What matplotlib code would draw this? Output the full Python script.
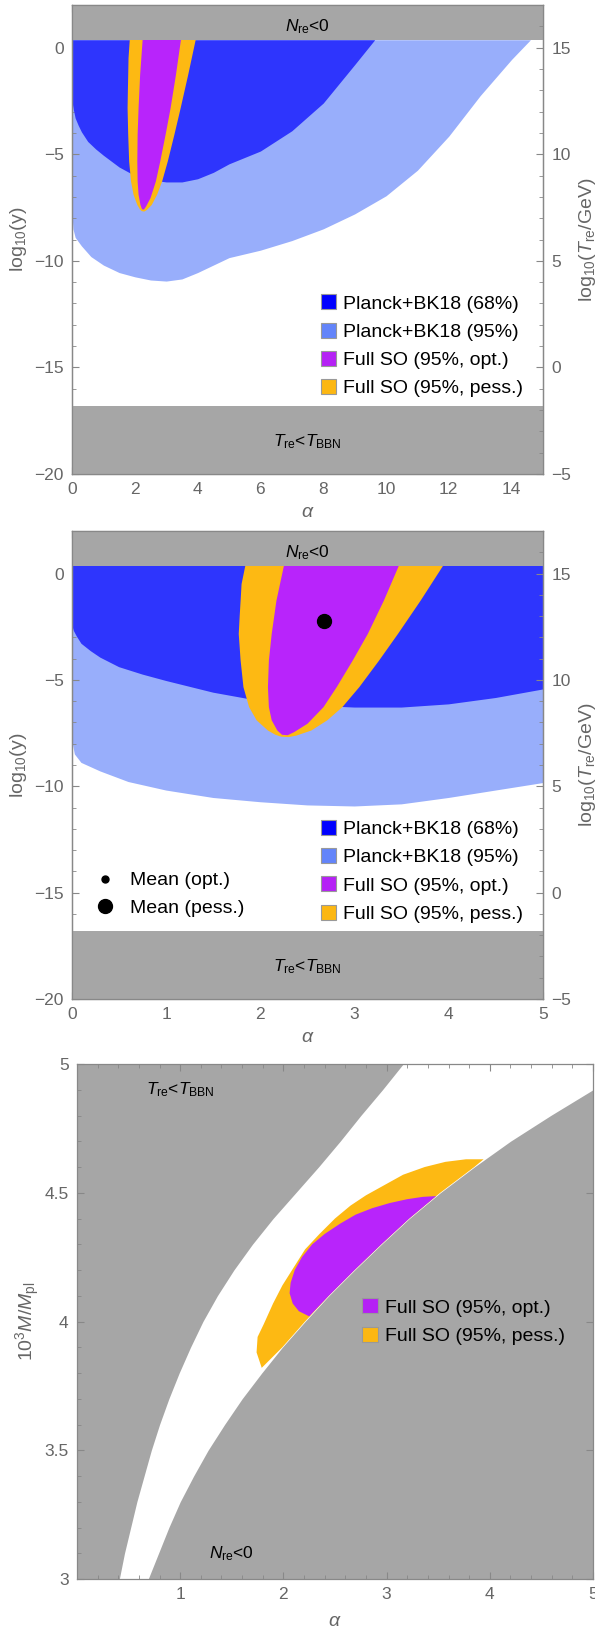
import matplotlib
matplotlib.use('Agg')
import matplotlib.pyplot as plt
from matplotlib.patches import Patch
from matplotlib.lines import Line2D
from matplotlib.ticker import MultipleLocator

plt.rcParams['font.family'] = ['Liberation Sans', 'DejaVu Sans']
plt.rcParams['mathtext.fontset'] = 'custom'
plt.rcParams['mathtext.rm'] = 'Liberation Sans'
plt.rcParams['mathtext.it'] = 'Liberation Sans:italic'

# excluded regions in log10(y)
nre_edge = 0.37     # N_re < 0 above
bbn_edge = -16.8    # T_re < T_BBN below

# Planck+BK18 68% lower edge
alpha_68 = [0.0, 0.02, 0.05, 0.1, 0.2, 0.3, 0.5, 0.75, 1.0, 1.5, 2.0, 2.5, 3.0, 3.5, 4.0, 4.5, 5.0, 6.0, 7.0, 8.0, 9.0, 9.64]
logy_68 = [-2.4, -2.7, -2.95, -3.3, -3.65, -3.95, -4.4, -4.75, -5.05, -5.6, -6.0, -6.2, -6.3, -6.3, -6.15, -5.85, -5.45, -4.85, -3.9, -2.6, -0.8, 0.37]

# Planck+BK18 95% lower edge
alpha_95 = [0.0, 0.03, 0.1, 0.3, 0.6, 1.0, 1.5, 2.0, 2.5, 3.0, 3.5, 4.0, 4.5, 5.0, 6.0, 7.0, 8.0, 9.0, 10.0, 11.0, 12.0, 13.0, 14.0, 14.6]
logy_95 = [-7.8, -8.5, -8.9, -9.3, -9.8, -10.2, -10.55, -10.75, -10.9, -10.95, -10.85, -10.55, -10.2, -9.85, -9.5, -9.05, -8.5, -7.8, -6.95, -5.75, -4.15, -2.25, -0.55, 0.37]

# Full SO 95% pessimistic contour (left edge top->tip, right edge tip->top)
pess_left_a = [1.84, 1.80, 1.79, 1.78, 1.77, 1.79, 1.82, 1.88, 1.96, 2.08, 2.16, 2.22]
pess_left_y = [0.37, -0.5, -1.28, -2.0, -2.84, -4.09, -5.34, -6.28, -6.9, -7.38, -7.58, -7.67]
pess_right_a = [2.30, 2.38, 2.54, 2.71, 2.87, 3.05, 3.26, 3.46, 3.70, 3.94]
pess_right_y = [-7.69, -7.62, -7.38, -6.9, -6.28, -5.34, -4.09, -2.84, -1.28, 0.37]

# Full SO 95% optimistic contour
opt_left_a = [2.25, 2.17, 2.12, 2.09, 2.08, 2.09, 2.12, 2.18, 2.23]
opt_left_y = [0.37, -1.28, -2.84, -4.09, -5.34, -6.28, -6.9, -7.38, -7.58]
opt_right_a = [2.29, 2.36, 2.50, 2.67, 2.81, 2.98, 3.14, 3.31, 3.47]
opt_right_y = [-7.6, -7.45, -7.06, -6.28, -5.34, -4.09, -2.84, -1.28, 0.37]

# means
mean_alpha = [2.67, 2.67]
mean_logy = [-2.25, -2.25]

# third panel: allowed band in (alpha, 10^3 M/Mpl)
mass_grid = [3.0, 3.1, 3.2, 3.3, 3.4, 3.5, 3.6, 3.7, 3.8, 3.9, 4.0,
             4.1, 4.2, 4.3, 4.4, 4.5, 4.6, 4.7, 4.8, 4.9, 5.0]
alpha_bbn = [0.41, 0.46, 0.52, 0.58, 0.65, 0.72, 0.80, 0.89, 0.99, 1.10, 1.22,
             1.36, 1.52, 1.70, 1.90, 2.12, 2.34, 2.55, 2.75, 2.96, 3.16]
alpha_nre = [0.69, 0.79, 0.89, 1.00, 1.13, 1.27, 1.43, 1.60, 1.79, 1.99, 2.21,
             2.44, 2.69, 2.95, 3.22, 3.52, 3.85, 4.20, 4.59, 5.00, 5.40]

pess_arc_a = [1.79, 1.74, 1.75, 1.81, 1.90, 1.99, 2.10, 2.21, 2.35, 2.50, 2.65, 2.80, 2.98, 3.16, 3.37, 3.57, 3.77, 3.94]
pess_arc_m = [3.82, 3.88, 3.94, 3.99, 4.07, 4.14, 4.21, 4.28, 4.34, 4.40, 4.45, 4.49, 4.53, 4.57, 4.60, 4.62, 4.63, 4.63]
opt_arc_a = [2.25, 2.15, 2.09, 2.06, 2.07, 2.11, 2.18, 2.28, 2.40, 2.55, 2.70, 2.86, 3.03, 3.20, 3.35, 3.48]
opt_arc_m = [4.02, 4.04, 4.07, 4.11, 4.15, 4.20, 4.25, 4.30, 4.34, 4.38, 4.415, 4.44, 4.46, 4.475, 4.484, 4.487]

gray = '#a6a6a6'
c68, c95 = '#2e35fd', '#98aefb'
c_opt, c_pess = '#b824fb', '#fdb913'
tick_col = '#666666'
legend_labels = ['Planck+BK18 (68%)', 'Planck+BK18 (95%)', 'Full SO (95%, opt.)', 'Full SO (95%, pess.)']
legend_cols = ['#0000ff', '#6384fa', '#b521f5', '#fcb712']


def style_axes(ax):
    for s in ax.spines.values():
        s.set_color('#888888')
        s.set_linewidth(0.9)
    ax.tick_params(which='both', direction='in', colors='#888888', labelcolor=tick_col,
                   labelsize=12.5, top=True, pad=6)
    ax.tick_params(which='major', length=5)
    ax.tick_params(which='minor', length=3)


def reheating_panel(ax, xmax, xmajor, xminor, show_mean):
    ax.fill_between(alpha_95, logy_95, nre_edge, color=c95, lw=0, zorder=1)
    ax.fill_between(alpha_68, logy_68, nre_edge, color=c68, lw=0, zorder=2)
    ax.fill(pess_left_a + pess_right_a, pess_left_y + pess_right_y, color=c_pess, lw=0, zorder=3)
    ax.fill(opt_left_a + opt_right_a, opt_left_y + opt_right_y, color=c_opt, lw=0, zorder=4)
    ax.axhspan(nre_edge, 2, color=gray, lw=0, zorder=5)
    ax.axhspan(-20, bbn_edge, color=gray, lw=0, zorder=5)
    ax.text(xmax / 2, 1.0, r'$N_{\rm re}$<0', ha='center', va='center', fontsize=12.5, zorder=6)
    ax.text(xmax / 2, -18.5, r'$T_{\rm re}$<$T_{\rm BBN}$', ha='center', va='center', fontsize=12.5, zorder=6)
    ax.set_xlim(0, xmax)
    ax.set_ylim(-20, 2)
    ax.xaxis.set_major_locator(MultipleLocator(xmajor))
    ax.xaxis.set_minor_locator(MultipleLocator(xminor))
    ax.yaxis.set_major_locator(MultipleLocator(5))
    ax.yaxis.set_minor_locator(MultipleLocator(1))
    style_axes(ax)
    ax.tick_params(right=False)
    ax.set_xlabel(r'$\alpha$', color=tick_col, fontsize=14, labelpad=5)
    ax.set_ylabel(r'log$_{10}$(y)', color=tick_col, fontsize=14, labelpad=3.5)
    axr = ax.twinx()
    axr.set_ylim(-20 + 15, 2 + 15)
    axr.yaxis.set_major_locator(MultipleLocator(5))
    axr.yaxis.set_minor_locator(MultipleLocator(1))
    style_axes(axr)
    axr.set_ylabel(r'log$_{10}$($T_{\rm re}$/GeV)', color=tick_col, fontsize=14, labelpad=4)

    handles = [Patch(facecolor=c, edgecolor='#999999', lw=0.8) for c in legend_cols]
    leg = ax.legend(handles, legend_labels, loc='upper left', bbox_to_anchor=(0.528, 0.383),
                    frameon=False, fontsize=14, handlelength=0.8, handleheight=0.8,
                    handletextpad=0.35, labelspacing=0.52, borderpad=0, borderaxespad=0)
    leg.set_zorder(7)
    if show_mean:
        ax.plot(mean_alpha[1], mean_logy[1], 'o', color='black', ms=10, zorder=6)
        ax.plot(mean_alpha[0], mean_logy[0], 'o', color='black', ms=5, zorder=6)
        ax.add_artist(leg)
        mh = [Line2D([], [], ls='', marker='o', color='black', ms=5),
              Line2D([], [], ls='', marker='o', color='black', ms=10)]
        leg2 = ax.legend(mh, ['Mean (opt.)', 'Mean (pess.)'], loc='upper left',
                         bbox_to_anchor=(0.045, 0.272), frameon=False, fontsize=14,
                         handlelength=1.2, handletextpad=0.7, labelspacing=0.5,
                         borderpad=0, borderaxespad=0)
        leg2.set_zorder(7)


fig = plt.figure(figsize=(5.95, 16.32), dpi=100)

ax1 = fig.add_axes([72 / 595, 1 - 474 / 1632, 471 / 595, 469 / 1632])
reheating_panel(ax1, 15, 2, 0.5, False)

ax2 = fig.add_axes([72 / 595, 1 - 999 / 1632, 471 / 595, 468 / 1632])
reheating_panel(ax2, 5, 1, 0.2, True)

# third panel
ax3 = fig.add_axes([77 / 595, 1 - 1579 / 1632, 516 / 595, 515 / 1632])
ax3.set_facecolor(gray)
ax3.fill_betweenx(mass_grid, alpha_bbn, alpha_nre, color='white', lw=0, zorder=1)

lo, hi = pess_arc_m[0], pess_arc_m[-1]
close_a = [a for a, m in zip(alpha_nre, mass_grid) if lo < m < hi][::-1]
close_m = [m for m in mass_grid if lo < m < hi][::-1]
ax3.fill(pess_arc_a + close_a, pess_arc_m + close_m, color=c_pess, lw=0, zorder=2)

lo, hi = opt_arc_m[0], opt_arc_m[-1]
close_a = [a for a, m in zip(alpha_nre, mass_grid) if lo < m < hi][::-1]
close_m = [m for m in mass_grid if lo < m < hi][::-1]
ax3.fill(opt_arc_a + close_a, opt_arc_m + close_m, color=c_opt, lw=0, zorder=3)

ax3.text(1.0, 4.9, r'$T_{\rm re}$<$T_{\rm BBN}$', ha='center', va='center', fontsize=12.5, zorder=6)
ax3.text(1.5, 3.1, r'$N_{\rm re}$<0', ha='center', va='center', fontsize=12.5, zorder=6)
ax3.set_xlim(0, 5)
ax3.set_ylim(3, 5)
ax3.set_xticks([1, 2, 3, 4, 5])
ax3.xaxis.set_minor_locator(MultipleLocator(0.2))
ax3.set_yticks([3, 3.5, 4, 4.5, 5])
ax3.set_yticklabels(['3', '3.5', '4', '4.5', '5'])
ax3.yaxis.set_minor_locator(MultipleLocator(0.1))
style_axes(ax3)
ax3.tick_params(right=True)
ax3.set_xlabel(r'$\alpha$', color=tick_col, fontsize=14, labelpad=8)
ax3.set_ylabel(r'$\mathit{10^3M/M}_{\rm pl}$', color=tick_col, fontsize=14, labelpad=1.5)
handles = [Patch(facecolor=c, edgecolor='#999999', lw=0.8) for c in legend_cols[2:]]
leg3 = ax3.legend(handles, legend_labels[2:], loc='upper left', bbox_to_anchor=(0.553, 0.545),
                  frameon=False, fontsize=14, handlelength=0.8, handleheight=0.8,
                  handletextpad=0.35, labelspacing=0.52, borderpad=0, borderaxespad=0)
leg3.set_zorder(7)

fig.savefig('out.png', dpi=100)
